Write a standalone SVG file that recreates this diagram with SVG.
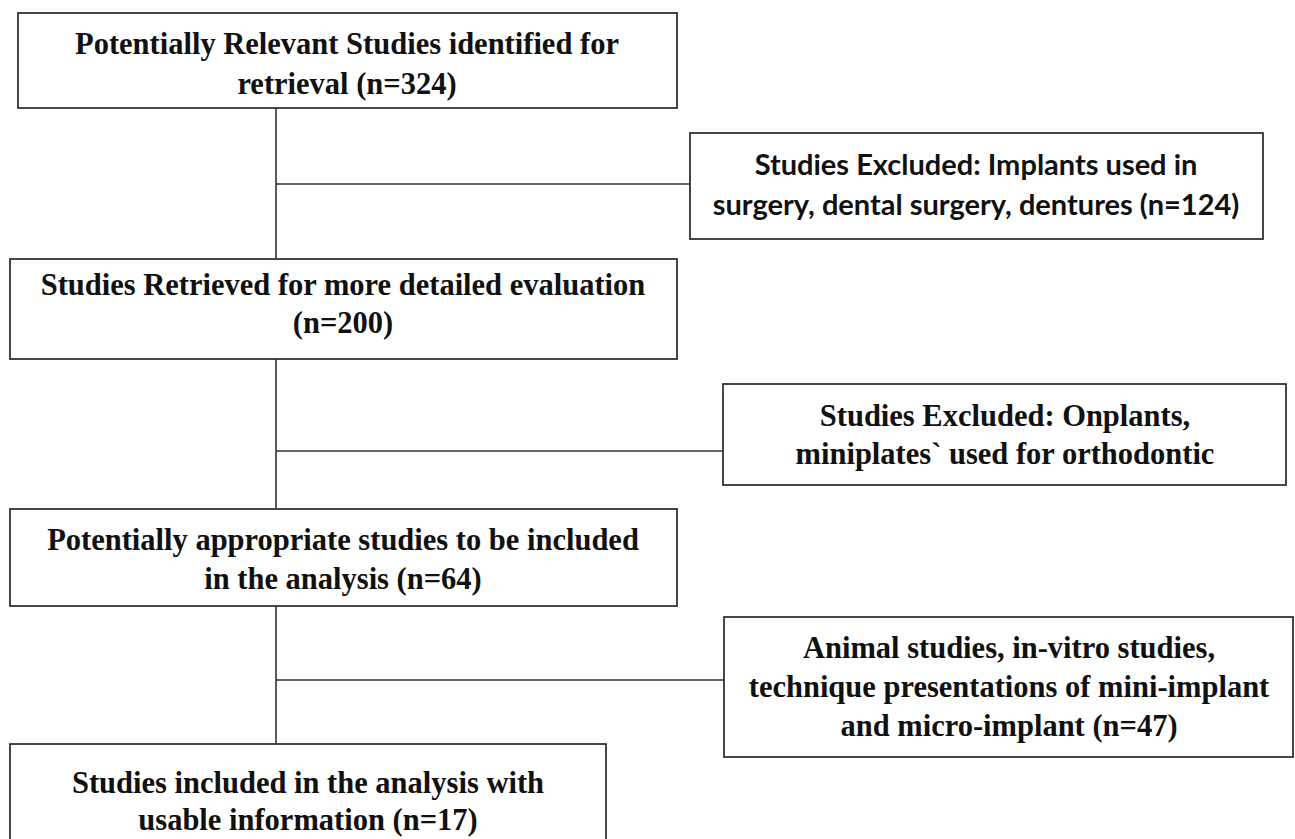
<svg xmlns="http://www.w3.org/2000/svg" width="1295" height="839" viewBox="0 0 1295 839">
<style>
.box{fill:#fff;stroke:#333;stroke-width:1.8}
.ln{stroke:#333;stroke-width:1.6;fill:none}
.t{font-family:"Liberation Serif","Times New Roman",serif;font-weight:bold;font-size:30.5px;fill:#111;text-anchor:middle}
.c{font-family:Lato,"Open Sans",sans-serif;font-weight:bold;font-size:29px;fill:#111;text-anchor:middle}
</style>
<rect width="1295" height="839" fill="#fff"/>
<g id="connectors">
<path class="ln" d="M276 108V259M276 359V509M276 606V744M276 184H690M276 451H723M276 680H724"/>
</g>
<g id="n1">
<rect class="box" x="18" y="13" width="659" height="95"/>
<text class="t" x="347" y="54">Potentially Relevant Studies identified for</text>
<text class="t" x="347" y="94">retrieval (n=324)</text>
</g>
<g id="n2">
<rect class="box" x="690" y="133" width="573" height="106"/>
<text class="c" x="976" y="175">Studies Excluded: Implants used in</text>
<text class="c" x="976" y="215">surgery, dental surgery, dentures (n=124)</text>
</g>
<g id="n3">
<rect class="box" x="10" y="259" width="667" height="100"/>
<text class="t" x="343" y="295">Studies Retrieved for more detailed evaluation</text>
<text class="t" x="343" y="333">(n=200)</text>
</g>
<g id="n4">
<rect class="box" x="723" y="384" width="563" height="101"/>
<text class="t" x="1005" y="426">Studies Excluded: Onplants,</text>
<text class="t" x="1005" y="464">miniplates` used for orthodontic</text>
</g>
<g id="n5">
<rect class="box" x="10" y="509" width="667" height="97"/>
<text class="t" x="343" y="550">Potentially appropriate studies to be included</text>
<text class="t" x="343" y="589">in the analysis (n=64)</text>
</g>
<g id="n6">
<rect class="box" x="724" y="617" width="569" height="140"/>
<text class="t" x="1009" y="658">Animal studies, in-vitro studies,</text>
<text class="t" x="1009" y="697">technique presentations of mini-implant</text>
<text class="t" x="1009" y="736">and micro-implant (n=47)</text>
</g>
<g id="n7">
<rect class="box" x="10" y="744" width="596" height="110"/>
<text class="t" x="308" y="793">Studies included in the analysis with</text>
<text class="t" x="308" y="830">usable information (n=17)</text>
</g>
</svg>
